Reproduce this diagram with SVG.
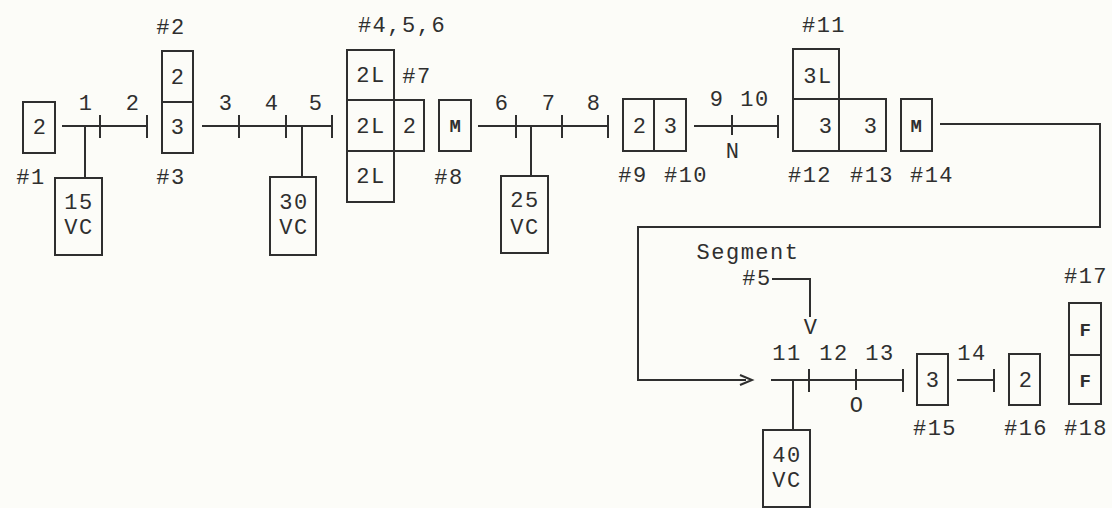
<svg xmlns="http://www.w3.org/2000/svg" width="1112" height="508" viewBox="0 0 1112 508">
<style>
.b{fill:none;stroke:#2f2f2f;stroke-width:2}
.l{fill:none;stroke:#2f2f2f;stroke-width:2}
text{font-family:"Liberation Mono","Courier New",monospace;font-size:22px;fill:#2f2f2f;text-anchor:middle;letter-spacing:1.5px}
.m{font-size:19px;font-weight:bold}
</style>
<rect width="1112" height="508" fill="#fcfcf8"/>
<g id="connectors">
<path class="l" d="M62 126H147M100 115V138M147 115V138M85 126V178"/>
<path class="l" d="M202 126H332M239 115V138M286 115V138M332 115V138M302 126V177"/>
<path class="l" d="M478 126H608M516 115V138M562 115V138M608 115V138M531 126V176"/>
<path class="l" d="M694 126H778M732 115V135M778 115V138"/>
<path class="l" d="M940 124H1100V227H638V380H746"/>
<path class="l" d="M740 375L752 380L740 385"/>
<path class="l" d="M771 380H903M809 369V392M856 369V390M903 369V392M793 380V430"/>
<path class="l" d="M772 279H810V317"/>
<path class="l" d="M957 380H994M994 369V392"/>
</g>
<g id="n1"><rect class="b" x="23" y="102" width="32" height="51"/><text x="40" y="134">2</text><text x="31" y="184">#1</text></g>
<g id="vc15"><rect class="b" x="55" y="178" width="47" height="77"/><text x="79" y="209">15</text><text x="79" y="234">VC</text></g>
<g id="n2_3"><rect class="b" x="162" y="51" width="31" height="102"/><path class="b" d="M162 102H193"/><text x="178" y="84">2</text><text x="178" y="134">3</text><text x="171" y="34">#2</text><text x="171" y="184">#3</text></g>
<g id="vc30"><rect class="b" x="270" y="177" width="46" height="78"/><text x="294" y="209">30</text><text x="294" y="234">VC</text></g>
<g id="n4_5_6"><rect class="b" x="347" y="50" width="47" height="152"/><path class="b" d="M347 100H394M347 151H394"/><text x="371" y="82">2L</text><text x="371" y="133">2L</text><text x="371" y="183">2L</text><text x="402" y="32">#4,5,6</text></g>
<g id="n7"><rect class="b" x="394" y="100" width="30" height="51"/><text x="410" y="133">2</text><text x="417" y="83">#7</text></g>
<g id="n8"><rect class="b" x="439" y="100" width="32" height="51"/><text class="m" x="456" y="132">M</text><text x="449" y="184">#8</text></g>
<g id="vc25"><rect class="b" x="501" y="176" width="47" height="77"/><text x="525" y="207">25</text><text x="525" y="234">VC</text></g>
<g id="n9_10"><rect class="b" x="623" y="99" width="63" height="52"/><path class="b" d="M654 99V151"/><text x="640" y="133">2</text><text x="671" y="133">3</text><text x="633" y="182">#9</text><text x="686" y="182">#10</text></g>
<g id="n11_12"><rect class="b" x="793" y="49" width="46" height="102"/><path class="b" d="M793 99H839"/><text x="818" y="83">3L</text><text x="826" y="133">3</text><text x="824" y="32">#11</text><text x="810" y="182">#12</text></g>
<g id="n13"><rect class="b" x="839" y="99" width="47" height="52"/><text x="871" y="133">3</text><text x="872" y="182">#13</text></g>
<g id="n14"><rect class="b" x="901" y="99" width="31" height="52"/><text class="m" x="917" y="132">M</text><text x="932" y="182">#14</text></g>
<g id="vc40"><rect class="b" x="763" y="430" width="47" height="77"/><text x="787" y="462">40</text><text x="787" y="487">VC</text></g>
<g id="n15"><rect class="b" x="917" y="354" width="31" height="51"/><text x="933" y="387">3</text><text x="935" y="435">#15</text></g>
<g id="n16"><rect class="b" x="1009" y="354" width="31" height="51"/><text x="1026" y="387">2</text><text x="1026" y="435">#16</text></g>
<g id="n17_18"><rect class="b" x="1069" y="303" width="32" height="101"/><path class="b" d="M1069 355H1101"/><text class="m" x="1086" y="336">F</text><text class="m" x="1086" y="387">F</text><text x="1086" y="283">#17</text><text x="1086" y="435">#18</text></g>
<g id="labels">
<text x="86" y="110">1</text><text x="133" y="110">2</text>
<text x="226" y="110">3</text><text x="272" y="110">4</text><text x="316" y="110">5</text>
<text x="502" y="110">6</text><text x="549" y="110">7</text><text x="594" y="110">8</text>
<text x="717" y="106">9</text><text x="755" y="106">10</text><text x="733" y="158">N</text>
<text x="748" y="259">Segment</text><text x="757" y="285">#5</text><text x="811" y="334">V</text>
<text x="787" y="360">11</text><text x="834" y="360">12</text><text x="880" y="360">13</text>
<text x="857" y="412">O</text><text x="972" y="360">14</text>
</g>
</svg>
